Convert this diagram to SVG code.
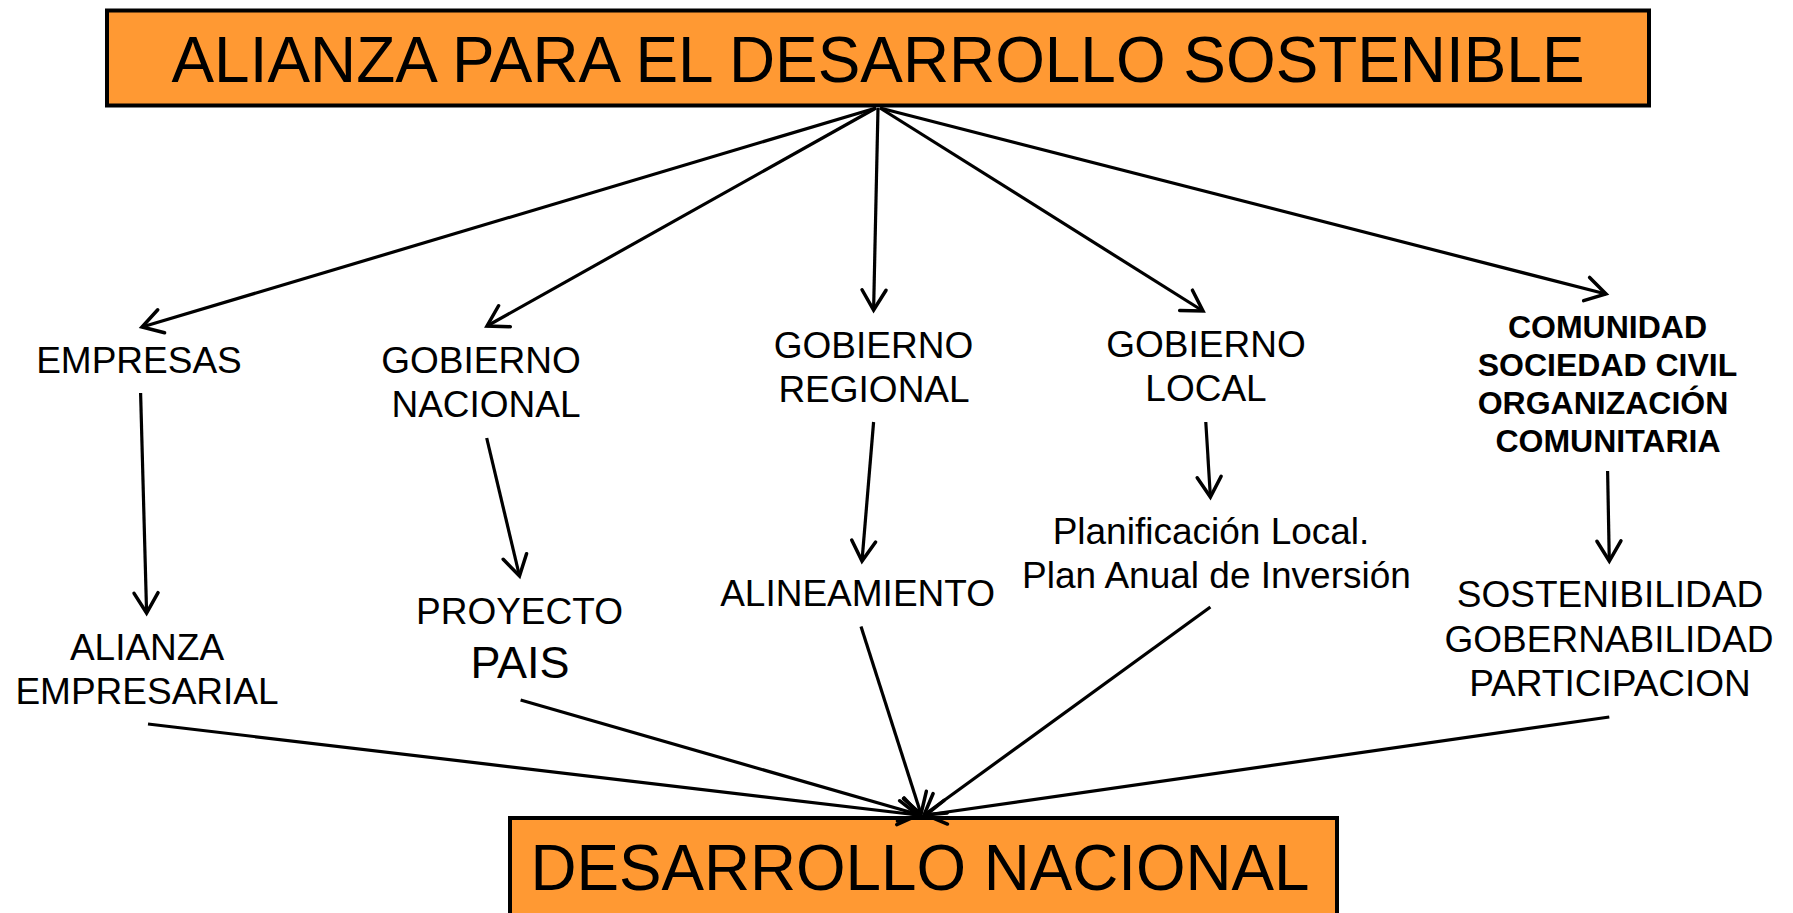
<svg xmlns="http://www.w3.org/2000/svg" width="1793" height="913" viewBox="0 0 1793 913">
<style>
.box{fill:#FF9933;stroke:#000;stroke-width:4}
.t{font-family:"Liberation Sans",Arial,sans-serif;fill:#000;text-anchor:middle}
.n{font-size:37px}
.b{font-size:32px;font-weight:bold}
.big{font-size:64px}
.c{stroke:#000;stroke-width:3.2;fill:none;marker-end:url(#arr)}
</style>
<defs>
<marker id="arr" markerUnits="userSpaceOnUse" viewBox="-26 -16 30 32" markerWidth="30" markerHeight="32" refX="0" refY="0" orient="auto">
<path d="M-20,-12 L0,0 L-20,12" fill="none" stroke="#000" stroke-width="3.5" stroke-linecap="round" stroke-linejoin="miter"/>
</marker>
</defs>
<rect width="1793" height="913" fill="#fff"/>
<g id="top">
<rect class="box" x="107" y="10.5" width="1542" height="95"/>
<text class="t big" x="878" y="82" textLength="1413" lengthAdjust="spacingAndGlyphs">ALIANZA PARA EL DESARROLLO SOSTENIBLE</text>
</g>
<g id="bottom">
<rect class="box" x="510" y="818" width="827" height="130"/>
<text class="t big" x="920" y="890" textLength="779" lengthAdjust="spacingAndGlyphs">DESARROLLO NACIONAL</text>
</g>
<g id="empresas"><text class="t n" x="139" y="373">EMPRESAS</text></g>
<g id="gob-nacional"><text class="t n" x="481" y="373">GOBIERNO</text><text class="t n" x="486" y="417">NACIONAL</text></g>
<g id="gob-regional"><text class="t n" x="873.5" y="358">GOBIERNO</text><text class="t n" x="874" y="402">REGIONAL</text></g>
<g id="gob-local"><text class="t n" x="1206" y="357">GOBIERNO</text><text class="t n" x="1206" y="401">LOCAL</text></g>
<g id="comunidad">
<text class="t b" x="1607.5" y="338">COMUNIDAD</text>
<text class="t b" x="1607.5" y="376">SOCIEDAD CIVIL</text>
<text class="t b" x="1603" y="414">ORGANIZACIÓN</text>
<text class="t b" x="1608" y="452">COMUNITARIA</text>
</g>
<g id="alianza-emp"><text class="t n" x="147" y="660">ALIANZA</text><text class="t n" x="147" y="704">EMPRESARIAL</text></g>
<g id="proyecto"><text class="t n" x="519.5" y="624">PROYECTO</text><text class="t" style="font-size:45px" x="520" y="678">PAIS</text></g>
<g id="alineamiento"><text class="t n" x="857.6" y="606">ALINEAMIENTO</text></g>
<g id="planificacion"><text class="t n" x="1211" y="544">Planificación Local.</text><text class="t n" x="1216.5" y="588">Plan Anual de Inversión</text></g>
<g id="sostenibilidad">
<text class="t n" x="1610" y="607">SOSTENIBILIDAD</text>
<text class="t n" x="1609" y="652">GOBERNABILIDAD</text>
<text class="t n" x="1610" y="696">PARTICIPACION</text>
</g>
<g id="connectors">
<line class="c" x1="876" y1="108" x2="142" y2="327"/>
<line class="c" x1="876" y1="108" x2="487" y2="326"/>
<line class="c" x1="878" y1="108" x2="873.6" y2="310"/>
<line class="c" x1="880" y1="108" x2="1203" y2="311"/>
<line class="c" x1="880" y1="108" x2="1606" y2="294"/>
<line class="c" x1="140.6" y1="393" x2="146.6" y2="613"/>
<line class="c" x1="486.7" y1="438" x2="519.5" y2="576"/>
<line class="c" x1="873.6" y1="422" x2="862" y2="561"/>
<line class="c" x1="1205.8" y1="422" x2="1210.4" y2="497"/>
<line class="c" x1="1607.6" y1="471" x2="1609.3" y2="561"/>
<line class="c" x1="148" y1="724" x2="918" y2="815"/>
<line class="c" x1="520.6" y1="700" x2="920" y2="815"/>
<line class="c" x1="861" y1="626.5" x2="921" y2="814"/>
<line class="c" x1="1210.4" y1="607" x2="924" y2="815"/>
<line class="c" x1="1609.3" y1="717" x2="926" y2="815"/>
</g>
</svg>
